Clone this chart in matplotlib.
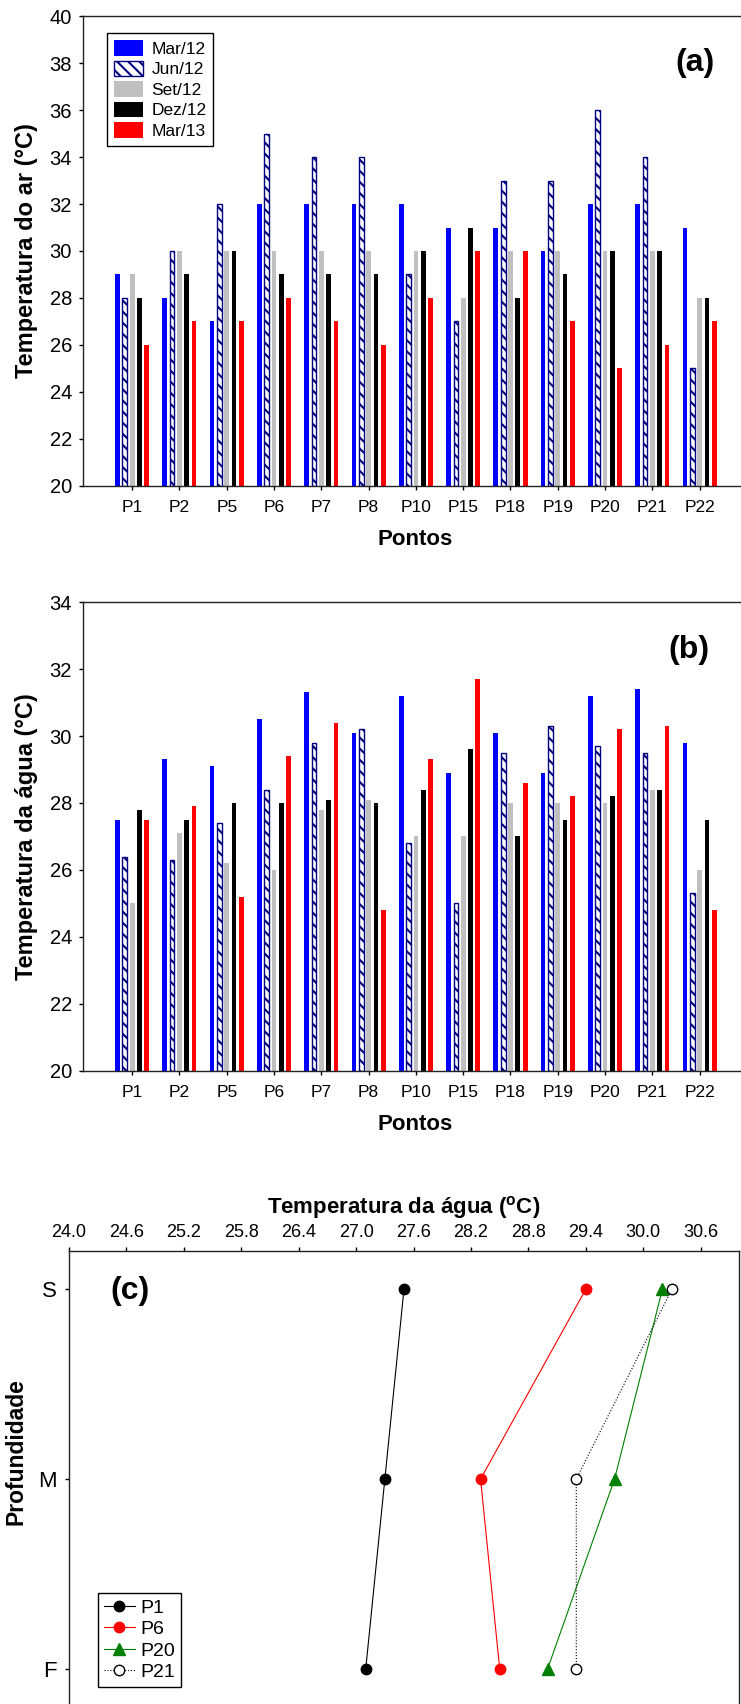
import numpy as np
import matplotlib
matplotlib.use('Agg')
import matplotlib.pyplot as plt

plt.rcParams['font.family'] = ['Liberation Sans', 'DejaVu Sans']
plt.rcParams['mathtext.fontset'] = 'custom'
plt.rcParams['mathtext.rm'] = 'Liberation Sans'
plt.rcParams['mathtext.bf'] = 'Liberation Sans:bold'
plt.rcParams['hatch.linewidth'] = 1.5
plt.rcParams['hatch.color'] = 'navy'

# pontos de coleta
pontos = ['P1', 'P2', 'P5', 'P6', 'P7', 'P8', 'P10', 'P15', 'P18', 'P19', 'P20', 'P21', 'P22']
campanhas = ['Mar/12', 'Jun/12', 'Set/12', 'Dez/12', 'Mar/13']

# temperatura do ar (C)
ar_mar12 = [29, 28, 27, 32, 32, 32, 32, 31, 31, 30, 32, 32, 31]
ar_jun12 = [28, 30, 32, 35, 34, 34, 29, 27, 33, 33, 36, 34, 25]
ar_set12 = [29, 30, 30, 30, 30, 30, 30, 28, 30, 30, 30, 30, 28]
ar_dez12 = [28, 29, 30, 29, 29, 29, 30, 31, 28, 29, 30, 30, 28]
ar_mar13 = [26, 27, 27, 28, 27, 26, 28, 30, 30, 27, 25, 26, 27]

# temperatura da agua (C)
agua_mar12 = [27.5, 29.3, 29.1, 30.5, 31.3, 30.1, 31.2, 28.9, 30.1, 28.9, 31.2, 31.4, 29.8]
agua_jun12 = [26.4, 26.3, 27.4, 28.4, 29.8, 30.2, 26.8, 25.0, 29.5, 30.3, 29.7, 29.5, 25.3]
agua_set12 = [25.0, 27.1, 26.2, 26.0, 27.8, 28.1, 27.0, 27.0, 28.0, 28.0, 28.0, 28.4, 26.0]
agua_dez12 = [27.8, 27.5, 28.0, 28.0, 28.1, 28.0, 28.4, 29.6, 27.0, 27.5, 28.2, 28.4, 27.5]
agua_mar13 = [27.5, 27.9, 25.2, 29.4, 30.4, 24.8, 29.3, 31.7, 28.6, 28.2, 30.2, 30.3, 24.8]

# perfil vertical (Mar/13)
profundidade = ['S', 'M', 'F']
perfil_p1 = [27.5, 27.3, 27.1]
perfil_p6 = [29.4, 28.3, 28.5]
perfil_p20 = [30.2, 29.7, 29.0]
perfil_p21 = [30.3, 29.3, 29.3]

fig = plt.figure(figsize=(7.41, 17.04), dpi=100)

estilos = [
    dict(color='#0000ff'),
    dict(facecolor='white', edgecolor='navy', hatch='\\\\\\', linewidth=1),
    dict(color='#c0c0c0'),
    dict(color='black'),
    dict(color='#ff0000'),
]


def barras(ax, series, ymax, ylabel):
    x = np.arange(len(pontos))
    for i, (vals, st) in enumerate(zip(series, estilos)):
        vals = np.array(vals)
        ax.bar(x + (i - 2) * 0.155, vals - 20, bottom=20, width=0.1,
               label=campanhas[i], **st)
    ax.set_xlim(-1.04, 13.0)
    ax.set_ylim(20, ymax)
    ax.set_yticks(np.arange(20, ymax + 1, 2))
    ax.set_xticks(x)
    ax.set_xticklabels(pontos)
    ax.tick_params(axis='y', direction='out', length=3, width=1, labelsize=14.5, pad=5)
    ax.tick_params(axis='x', direction='out', length=3, width=1, labelsize=12.5, pad=7)
    ax.spines['right'].set_visible(False)
    for s in ['left', 'bottom', 'top']:
        ax.spines[s].set_linewidth(1)
        ax.spines[s].set_color('#222222')
    ax.set_xlabel('Pontos', fontsize=16, fontweight='bold', labelpad=10)
    ax.set_ylabel(ylabel, fontsize=17, fontweight='bold')
    ax.yaxis.set_label_coords(-0.068, 0.5)


# (a) ar
ax1 = fig.add_axes([0.112, 0.7148, 0.896, 0.2758])
barras(ax1, [ar_mar12, ar_jun12, ar_set12, ar_dez12, ar_mar13], 40,
       'Temperatura do ar (°C)')
ax1.text(0.922, 0.9, '(a)', transform=ax1.transAxes, fontsize=23,
         fontweight='bold', ha='center', va='center')
ax1.legend(loc='upper left', bbox_to_anchor=(0.1444, 0.9806),
           bbox_transform=fig.transFigure, borderaxespad=0, fontsize=12.5,
           frameon=True, fancybox=False, edgecolor='black', framealpha=1,
           handlelength=1.65, handleheight=1.0, labelspacing=0.22,
           handletextpad=0.5, borderpad=0.4)

# (b) agua
ax2 = fig.add_axes([0.112, 0.3715, 0.896, 0.2752])
barras(ax2, [agua_mar12, agua_jun12, agua_set12, agua_dez12, agua_mar13], 34,
       'Temperatura da água (°C)')
ax2.text(0.912, 0.898, '(b)', transform=ax2.transAxes, fontsize=23,
         fontweight='bold', ha='center', va='center')

# (c) perfil
ax3 = fig.add_axes([0.0931, -0.0018, 0.9042, 0.2676])
y = np.arange(len(profundidade))
ax3.plot(perfil_p1, y, '-o', color='black', lw=0.8, ms=7.5, label='P1')
ax3.plot(perfil_p6, y, '-o', color='red', lw=0.8, ms=7.5, label='P6')
ax3.plot(perfil_p20, y, '-^', color='green', lw=0.8, ms=8, label='P20')
ax3.plot(perfil_p21, y, ':o', color='black', mfc='white', mec='black',
         lw=0.8, ms=7.5, label='P21')
ax3.set_xlim(24.0, 31.0)
ax3.set_ylim(2.2, -0.2)
ax3.set_yticks(y)
ax3.set_yticklabels(profundidade)
ax3.set_xticks(np.arange(24.0, 30.61, 0.6))
ax3.set_xticklabels(['%.1f' % v for v in np.arange(24.0, 30.61, 0.6)])
ax3.xaxis.tick_top()
ax3.xaxis.set_label_position('top')
ax3.tick_params(axis='x', direction='out', length=3, width=1, labelsize=13, pad=4)
ax3.tick_params(axis='y', direction='out', length=3, width=1, labelsize=16, pad=6)
for s in ax3.spines.values():
    s.set_linewidth(1)
    s.set_color('#222222')
ax3.set_xlabel(r'Temperatura da água ($^{\mathbf{o}}$C)', fontsize=16,
               fontweight='bold', labelpad=8)
ax3.set_ylabel('Profundidade', fontsize=16.5, fontweight='bold')
ax3.yaxis.set_label_coords(-0.062, 0.56)
ax3.text(0.091, 0.913, '(c)', transform=ax3.transAxes, fontsize=23,
         fontweight='bold', ha='center', va='center')
ax3.legend(loc='upper left', bbox_to_anchor=(0.1323, 0.0651),
           bbox_transform=fig.transFigure, borderaxespad=0, fontsize=14,
           frameon=True, fancybox=False, edgecolor='black', framealpha=1,
           numpoints=1, handlelength=1.6, labelspacing=0.2,
           handletextpad=0.3, borderpad=0.3)

fig.savefig('out.png', dpi=100)
